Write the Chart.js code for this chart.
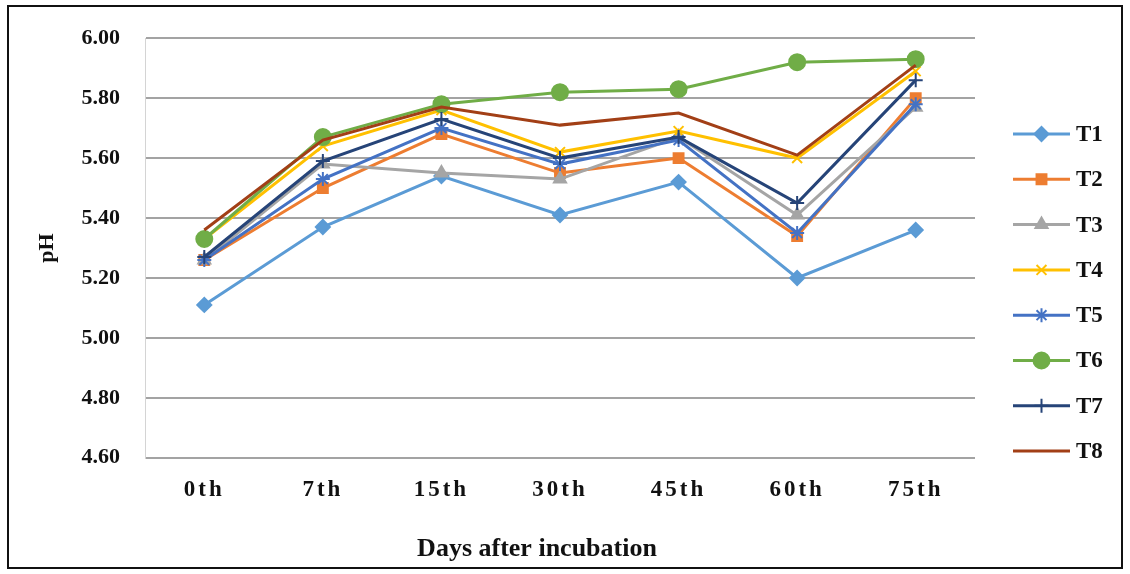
<!DOCTYPE html>
<html>
<head>
<meta charset="utf-8">
<script src="https://cdn.jsdelivr.net/npm/chart.js@4/dist/chart.umd.min.js"></script>
<style>
  html, body { margin: 0; padding: 0; background: #fff; }
  #wrap { width: 1130px; height: 574px; position: relative; }
</style>
</head>
<body>
<div id="wrap"><canvas id="c" width="1130" height="574"></canvas></div>
<script>
// Sampling days after incubation
const days = ['0th', '7th', '15th', '30th', '45th', '60th', '75th'];

// Soil pH per treatment
const T1 = [5.11, 5.37, 5.54, 5.41, 5.52, 5.20, 5.36];
const T2 = [5.26, 5.50, 5.68, 5.55, 5.60, 5.34, 5.80];
const T3 = [5.26, 5.58, 5.55, 5.53, 5.67, 5.41, 5.77];
const T4 = [5.33, 5.64, 5.76, 5.62, 5.69, 5.60, 5.89];
const T5 = [5.26, 5.53, 5.70, 5.58, 5.66, 5.35, 5.78];
const T6 = [5.33, 5.67, 5.78, 5.82, 5.83, 5.92, 5.93];
const T7 = [5.27, 5.59, 5.73, 5.60, 5.67, 5.45, 5.86];
const T8 = [5.36, 5.66, 5.77, 5.71, 5.75, 5.61, 5.91];

const seriesNames = ['T1', 'T2', 'T3', 'T4', 'T5', 'T6', 'T7', 'T8'];
const seriesValues = [T1, T2, T3, T4, T5, T6, T7, T8];
const yTicks = [4.60, 4.80, 5.00, 5.20, 5.40, 5.60, 5.80, 6.00];

const styles = [
  { color: '#5B9BD5', point: 'rectRot', r: 7 },
  { color: '#ED7D31', point: 'rect', r: 7 },
  { color: '#A5A5A5', point: 'triangle', r: 7 },
  { color: '#FFC000', point: 'crossRot', r: 7 },
  { color: '#4472C4', point: 'star', r: 7 },
  { color: '#70AD47', point: 'circle', r: 8 },
  { color: '#264478', point: 'cross', r: 7 },
  { color: '#A23F16', point: 'circle', r: 0 }
];

const SERIF = '"Liberation Serif", "DejaVu Serif", serif';

const datasets = seriesNames.map((name, i) => ({
  label: name,
  data: seriesValues[i],
  borderColor: styles[i].color,
  backgroundColor: styles[i].color,
  borderWidth: 3,
  pointStyle: styles[i].point,
  pointRadius: styles[i].r,
  pointBorderWidth: 2,
  pointBorderColor: styles[i].color,
  pointBackgroundColor: styles[i].color,
  tension: 0,
  order: seriesNames.length - i
}));

// Outer frame, letter-spaced category labels and the line+marker legend
const decor = {
  id: 'decor',
  beforeDraw(chart) {
    const ctx = chart.ctx;
    ctx.save();
    ctx.fillStyle = '#fff';
    ctx.fillRect(0, 0, chart.width, chart.height);
    ctx.restore();
  },
  afterDatasetsDraw(chart) {
    // category labels sit on a layer above the datasets (ticks.z: 1)
    chart.ctx.letterSpacing = '3px';
  },
  afterDraw(chart) {
    const ctx = chart.ctx;
    ctx.letterSpacing = '0px';
    ctx.save();
    ctx.strokeStyle = '#111';
    ctx.lineWidth = 2;
    ctx.strokeRect(8, 6, 1114, 562);

    const x0 = 1013, x1 = 1070, top = 134, step = 45.3;
    ctx.font = 'bold 23px ' + SERIF;
    ctx.textBaseline = 'middle';
    ctx.textAlign = 'left';
    chart.data.datasets.forEach((ds, i) => {
      const y = top + i * step;
      ctx.strokeStyle = ds.borderColor;
      ctx.lineWidth = 3;
      ctx.beginPath();
      ctx.moveTo(x0, y);
      ctx.lineTo(x1, y);
      ctx.stroke();
      if (ds.pointRadius > 0) {
        ctx.fillStyle = ds.pointBackgroundColor;
        ctx.strokeStyle = ds.pointBorderColor;
        ctx.lineWidth = 2;
        Chart.helpers.drawPoint(ctx, {
          pointStyle: ds.pointStyle,
          radius: ds.pointRadius,
          rotation: 0,
          borderWidth: 2
        }, (x0 + x1) / 2, y);
      }
      ctx.fillStyle = '#111';
      ctx.fillText(ds.label, x1 + 6, y + 1);
    });
    ctx.restore();
  }
};

new Chart(document.getElementById('c'), {
  type: 'line',
  data: { labels: days, datasets },
  options: {
    responsive: false,
    animation: false,
    devicePixelRatio: 1,
    layout: { padding: { top: 32, right: 56, left: 0, bottom: 0 } },
    plugins: {
      legend: { display: false },
      tooltip: { enabled: false },
      title: {
        display: true,
        position: 'bottom',
        text: 'Days after incubation',
        color: '#111',
        font: { family: SERIF, size: 26, weight: 'bold' },
        padding: { top: 8, bottom: 9 }
      }
    },
    scales: {
      x: {
        offset: true,
        grid: { display: false, drawTicks: false },
        border: { display: false },
        ticks: {
          z: 1,
          color: '#111',
          font: { family: SERIF, size: 23, weight: 'bold' },
          padding: 18
        },
        afterFit(scale) { scale.height = 68; }
      },
      y: {
        min: 4.6,
        max: 6.0,
        afterBuildTicks(scale) { scale.ticks = yTicks.map(v => ({ value: v })); },
        grid: { color: '#a3a3a3', lineWidth: 2, drawTicks: false },
        border: { display: true, color: '#d4d4d4', width: 1 },
        ticks: {
          color: '#111',
          font: { family: SERIF, size: 22, weight: 'bold' },
          padding: 25,
          callback: v => Number(v).toFixed(2)
        },
        title: {
          display: true,
          text: 'pH',
          color: '#111',
          font: { family: SERIF, size: 22, weight: 'bold' },
          padding: { top: 34, bottom: 0 }
        },
        afterFit(scale) { scale.width = 145; }
      },
      // empty right-hand band that holds the legend
      legendBand: {
        type: 'linear',
        axis: 'y',
        position: 'right',
        display: true,
        grid: { display: false },
        border: { display: false },
        ticks: { display: false },
        afterFit(scale) { scale.width = 99; }
      }
    }
  },
  plugins: [decor]
});
</script>
</body>
</html>
